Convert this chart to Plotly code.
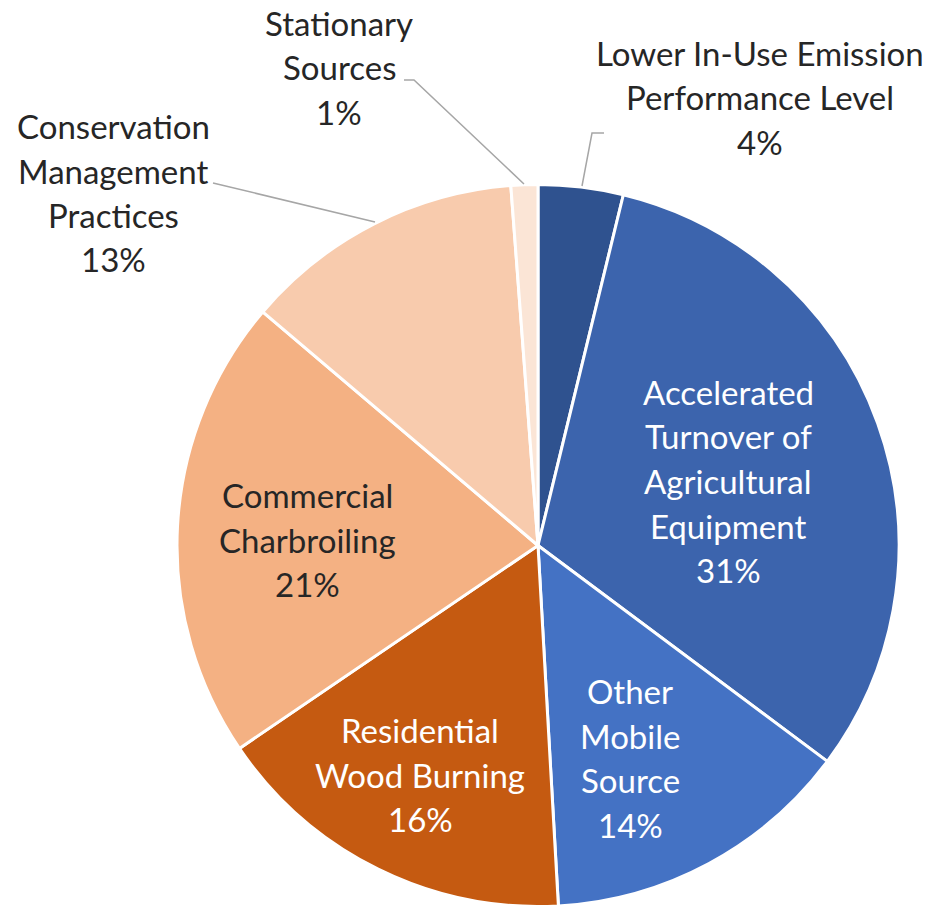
import plotly.graph_objects as go

# ---- data ----
categories = [
    "Lower In-Use Emission Performance Level",
    "Accelerated Turnover of Agricultural Equipment",
    "Other Mobile Source",
    "Residential Wood Burning",
    "Commercial Charbroiling",
    "Conservation Management Practices",
    "Stationary Sources",
]
shares = [3.8, 31.4, 13.9, 16.4, 20.7, 12.6, 1.2]
pct_labels = ["4%", "31%", "14%", "16%", "21%", "13%", "1%"]
label_lines = [
    ["Lower In-Use Emission", "Performance Level"],
    ["Accelerated", "Turnover of", "Agricultural", "Equipment"],
    ["Other", "Mobile", "Source"],
    ["Residential", "Wood Burning"],
    ["Commercial", "Charbroiling"],
    ["Conservation", "Management", "Practices"],
    ["Stationary", "Sources"],
]
colors = ["#2F528F", "#3C64AD", "#4472C4", "#C55A11", "#F4B183", "#F8CBAD", "#FBE5D6"]
text_colors = ["#262626", "#FFFFFF", "#FFFFFF", "#FFFFFF", "#262626", "#262626", "#262626"]

W, H = 930, 907
FONT = "Lato"
FS = 33
LINE = 44.5

# label placement (pixel centre x, first-line y)
label_pos = [
    (760, 53),
    (728, 392),
    (630, 691),
    (420, 730),
    (307, 495),
    (113, 126),
    (339, 23),
]

fig = go.Figure(go.Pie(
    values=shares,
    labels=categories,
    marker=dict(colors=colors, line=dict(color="white", width=3)),
    sort=False,
    direction="clockwise",
    rotation=0,
    textinfo="none",
    hoverinfo="label+percent",
    showlegend=False,
    domain=dict(x=[177 / W, 899 / W], y=[0.0, 1 - 184 / H]),
))

def px(x, y):
    return x / W, 1 - y / H

annotations = []
for lines, pct, (cx, cy), tc in zip(label_lines, pct_labels, label_pos, text_colors):
    for i, t in enumerate(lines + [pct]):
        x, y = px(cx, cy + i * LINE)
        annotations.append(dict(
            x=x, y=y, xref="paper", yref="paper", text=t, showarrow=False,
            xanchor="center", yanchor="middle",
            font=dict(family=FONT, size=FS, color=tc),
        ))

# leader lines for outside labels
leaders = [
    [(604, 133), (592, 133), (582, 186)],
    [(213, 183), (375, 222)],
    [(404, 80), (414, 80), (524, 184)],
]
shapes = []
for pts in leaders:
    path = "M " + " L ".join(f"{px(x, y)[0]:.5f},{px(x, y)[1]:.5f}" for x, y in pts)
    shapes.append(dict(type="path", path=path, xref="paper", yref="paper",
                       line=dict(color="#A6A6A6", width=1.5)))

fig.update_layout(
    width=W, height=H,
    margin=dict(l=0, r=0, t=0, b=0),
    paper_bgcolor="white",
    plot_bgcolor="white",
    annotations=annotations,
    shapes=shapes,
)

fig.write_html("out.html", config={"displayModeBar": False},
               post_script="document.body.style.margin='0';")
